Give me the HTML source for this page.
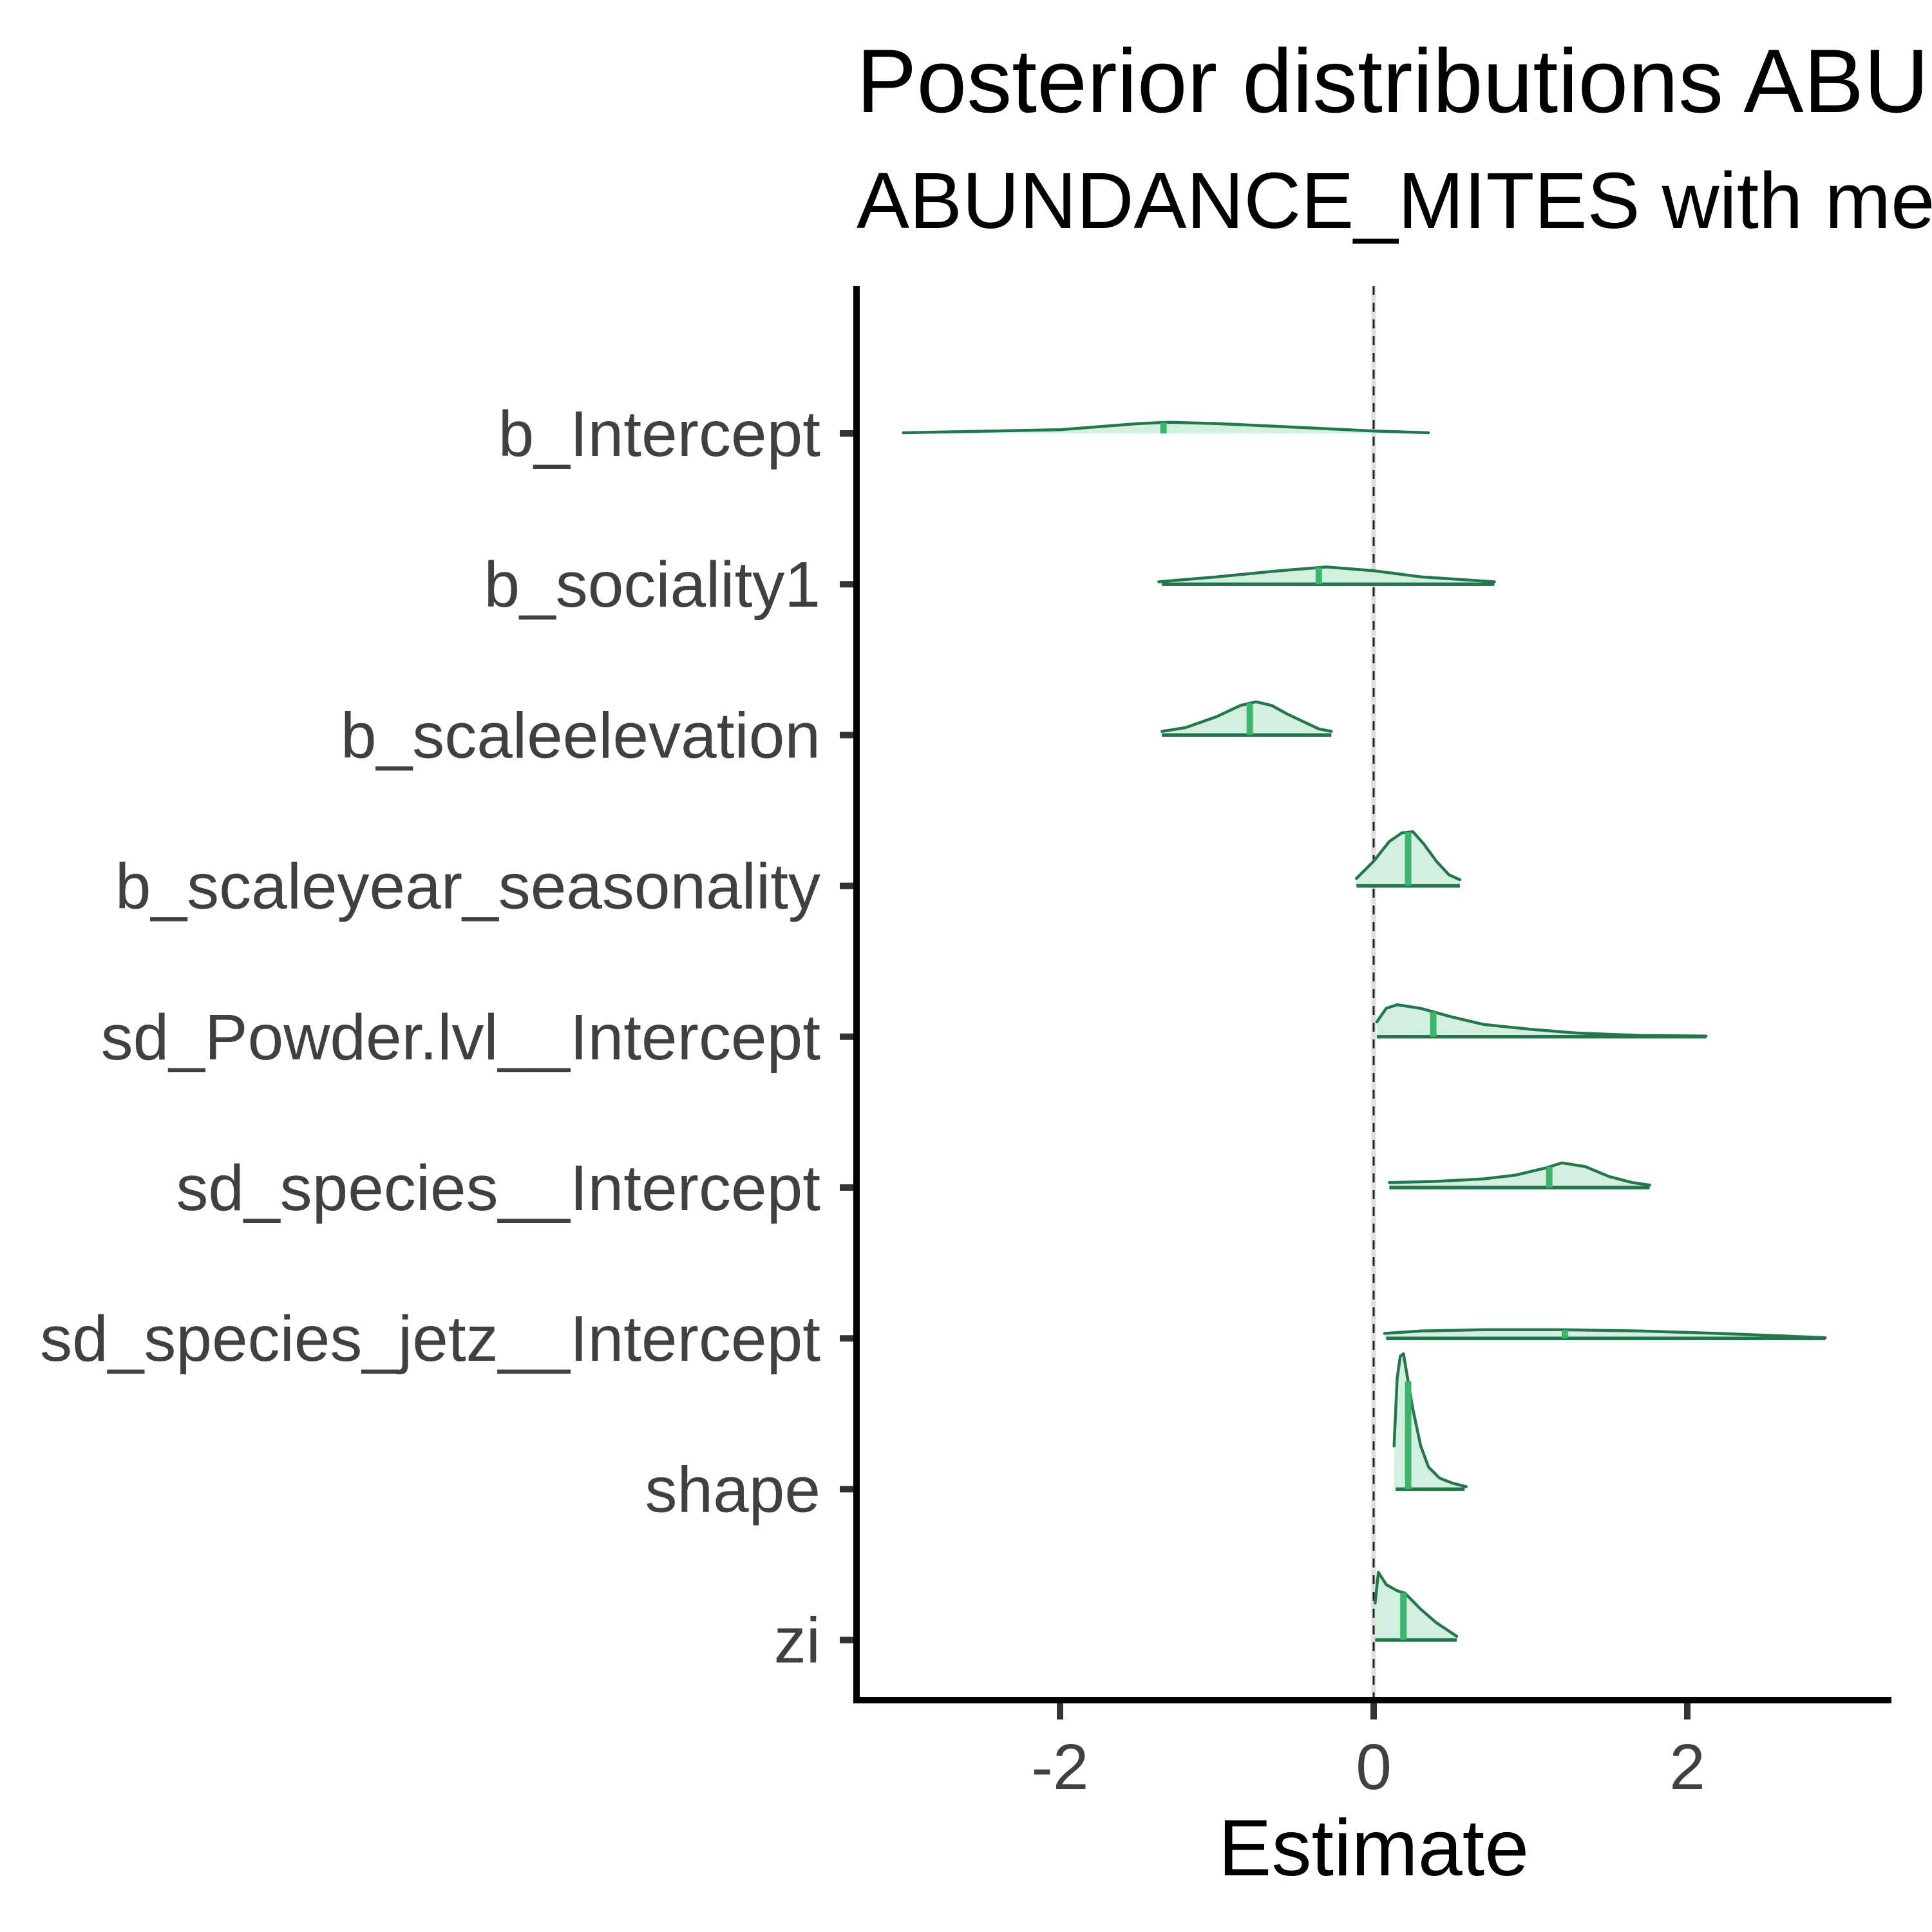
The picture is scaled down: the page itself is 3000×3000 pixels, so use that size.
<!DOCTYPE html>
<html><head><meta charset="utf-8"><style>
html,body{margin:0;padding:0;background:#fff;}
svg{display:block;}
text{font-family:"Liberation Sans",Arial,sans-serif;}
</style></head><body>
<svg id="chart" width="3000" height="3000" viewBox="0 0 3000 3000" xmlns="http://www.w3.org/2000/svg">
<rect width="3000" height="3000" fill="#fff"/>
<text x="1330" y="174" font-size="140" fill="#000">Posterior distributions ABUNDANCE_MITES</text>
<text x="1330" y="354" font-size="123" fill="#000">ABUNDANCE_MITES with median and 95% intervals</text>
<g id="plot"></g>
</svg>
<script>
const params = ["b_Intercept","b_sociality1","b_scaleelevation","b_scaleyear_seasonality","sd_Powder.lvl__Intercept","sd_species__Intercept","sd_species_jetz__Intercept","shape","zi"];
const xs0 = [-3.0,-2.0,-1.5,-1.3,-1.0,-0.5,0,0.35];
const ds0 = [0.5,3,8,9,8,5,2,0.5];
const xs1 = [-1.37,-1.0,-0.6,-0.3,0,0.3,0.77];
const ds1 = [2,6,11,14,11,6,2];
const xs2 = [-1.35,-1.2,-1.0,-0.85,-0.75,-0.65,-0.55,-0.45,-0.35,-0.27];
const ds2 = [3,6,15,24,27,24,17,11,5,3];
const xs3 = [-0.11,0,0.1,0.18,0.25,0.32,0.4,0.48,0.55];
const ds3 = [6,20,36,43,44,34,20,9,5];
const xs4 = [0.02,0.08,0.15,0.3,0.5,0.7,1.0,1.3,1.7,2.12];
const ds4 = [12,23,26,23,16,10,6,3,1,0.5];
const xs5 = [0.1,0.4,0.7,0.9,1.1,1.2,1.35,1.5,1.65,1.76];
const ds5 = [4,5,7,10,16,20,17,9,4,2];
const xs6 = [0.07,0.3,0.7,1.2,1.7,2.2,2.6,2.88];
const ds6 = [4,6,7,7,6,4,2,0.5];
const xs7 = [0.13,0.15,0.17,0.19,0.21,0.25,0.3,0.35,0.42,0.5,0.59];
const ds7 = [35,90,108,110,95,65,35,18,9,5,2];
const xs8 = [0.01,0.03,0.08,0.15,0.2,0.3,0.4,0.53];
const ds8 = [30,55,45,40,38,25,14,3];
const medians = [-1.34,-0.35,-0.79,0.22,0.38,1.12,1.22,0.22,0.19];
const intLow = [null,-1.35,-1.35,-0.11,0.02,0.1,0.08,0.14,0.01];
const intHigh = [null,0.77,-0.27,0.55,2.12,1.76,2.88,0.58,0.53];
const xTicks = [-2,0,2];
const xTickLabels = ["-2","0","2"];

const XS=[xs0,xs1,xs2,xs3,xs4,xs5,xs6,xs7,xs8], DS=[ds0,ds1,ds2,ds3,ds4,ds5,ds6,ds7,ds8];
const NS="http://www.w3.org/2000/svg";
const g=document.getElementById('plot');
const x0=2133, unit=243.5;
function xScale(v){return x0+v*unit;}
function yRow(i){return 673+i*234.2;}
function hScale(d){return d*1.913;}
function mk(tag,attrs){const e=document.createElementNS(NS,tag);for(const k in attrs)e.setAttribute(k,attrs[k]);g.appendChild(e);return e;}

let zl=mk('line',{x1:xScale(0),x2:xScale(0),y1:444,y2:2640,stroke:'#dddddd','stroke-width':7});


let zd=mk('line',{x1:xScale(0),x2:xScale(0),y1:444,y2:2640,stroke:'#222','stroke-width':3,'stroke-dasharray':'14 12'});



params.forEach((p,i)=>{
  const by=yRow(i), xs=XS[i], ds=DS[i];
  let pts=xs.map((v,j)=>xScale(v).toFixed(1)+','+(by-hScale(ds[j])).toFixed(1));
  let fill=mk('polygon',{points:xScale(xs[0])+','+by+' '+pts.join(' ')+' '+xScale(xs[xs.length-1])+','+by,fill:'#d2efe0',stroke:'none'});
  
  
  let ln=mk('polyline',{points:pts.join(' '),fill:'none',stroke:'#23774a','stroke-width':4.5,'stroke-linejoin':'round','stroke-linecap':'round'});
  
  
  if(intLow[i]!==null){
    let il=mk('line',{x1:xScale(intLow[i]),x2:xScale(intHigh[i]),y1:by,y2:by,stroke:'#23774a','stroke-width':5.5});
    
    
  }
  let m=medians[i], d=0;
  for(let j=0;j<xs.length-1;j++){if(m>=xs[j]&&m<=xs[j+1]){d=ds[j]+(ds[j+1]-ds[j])*(m-xs[j])/(xs[j+1]-xs[j]);}}
  let md=mk('line',{x1:xScale(m),x2:xScale(m),y1:by,y2:by-hScale(d),stroke:'#3bb56c','stroke-width':10});
  
  
  let tk=mk('line',{x1:1304,x2:1330,y1:by,y2:by,stroke:'#333','stroke-width':10});
  
  
  let t=mk('text',{x:1274,y:by+35,'font-size':100,fill:'#404040','text-anchor':'end'});
  t.textContent=p;
  
  
});

let ya=mk('line',{x1:1330,x2:1330,y1:444,y2:2645,stroke:'#000','stroke-width':10});


let xa=mk('line',{x1:1325,x2:2937,y1:2640,y2:2640,stroke:'#000','stroke-width':10});


xTicks.forEach((v,k)=>{
  let tk=mk('line',{x1:xScale(v),x2:xScale(v),y1:2645,y2:2670,stroke:'#333','stroke-width':10});
  
  
  let t=mk('text',{x:xScale(v),y:2778,'font-size':100,fill:'#404040','text-anchor':'middle'});
  t.textContent=xTickLabels[k];
  
  
});
let xt=mk('text',{x:xScale(0),y:2912,'font-size':124,fill:'#000','text-anchor':'middle'});
xt.textContent='Estimate';


</script>
</body></html>
